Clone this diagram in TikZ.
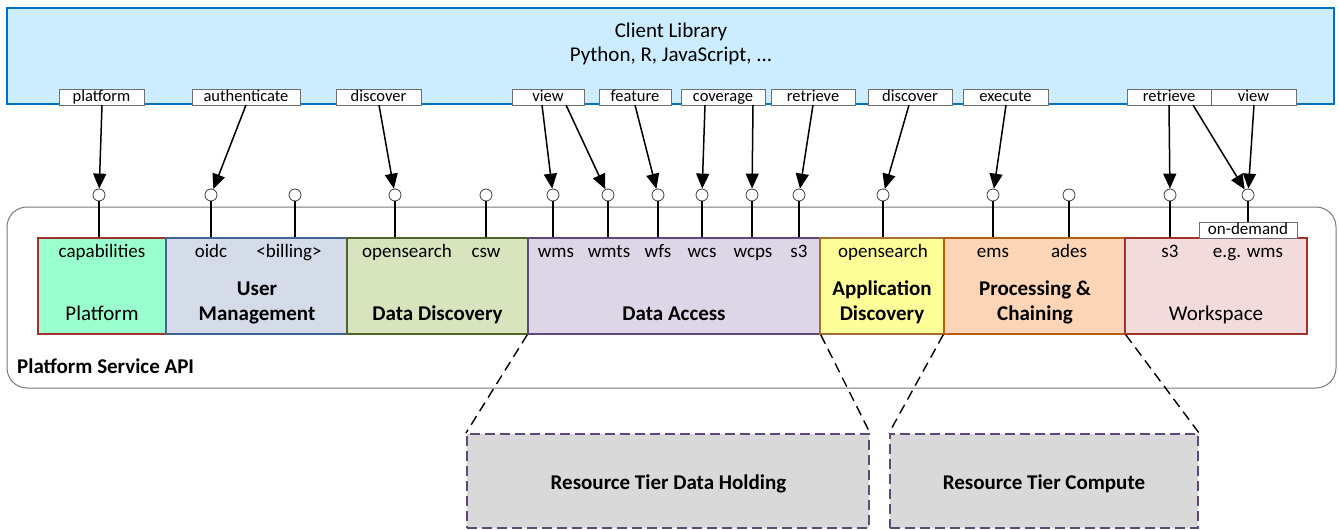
\documentclass[tikz,border=0pt]{standalone}
\usepackage{fontspec}
\setmainfont{Carlito}
\usetikzlibrary{arrows.meta}
\definecolor{clfill}{RGB}{204,236,255}
\definecolor{cldraw}{RGB}{0,112,192}
\definecolor{platfill}{RGB}{153,255,204}
\definecolor{reddraw}{RGB}{160,50,45}
\definecolor{userfill}{RGB}{213,220,233}
\definecolor{userdraw}{RGB}{65,100,150}
\definecolor{discfill}{RGB}{215,228,189}
\definecolor{discdraw}{RGB}{79,98,40}
\definecolor{accfill}{RGB}{221,214,230}
\definecolor{purpdraw}{RGB}{95,73,122}
\definecolor{appfill}{RGB}{255,255,153}
\definecolor{appdraw}{RGB}{166,110,50}
\definecolor{procfill}{RGB}{251,213,181}
\definecolor{procdraw}{RGB}{180,95,20}
\definecolor{workfill}{RGB}{242,220,219}
\definecolor{resfill}{RGB}{217,217,217}
\definecolor{outerdraw}{RGB}{120,120,120}
\definecolor{lbldraw}{RGB}{110,110,110}
\newcommand\myfsub{\fontsize{19}{22}\selectfont}
\newcommand\myfmain{\fontsize{21}{25}\selectfont}
\newcommand\myflbl{\fontsize{16.5}{19}\selectfont}
\newcommand\myfodm{\fontsize{17}{19}\selectfont}
\begin{document}
\begin{tikzpicture}[x=1pt,y=-1pt,
  box/.style={draw, line width=1.5pt, inner sep=0, minimum height=96pt},
  port/.style={circle, draw={rgb,255:red,60;green,60;blue,60}, fill=white, line width=0.8pt, minimum size=12pt, inner sep=0},
  lbl/.style={draw=lbldraw, fill=white, line width=0.8pt, inner sep=0, text height=12.5pt, text depth=3.5pt, font=\myflbl},
  subtxt/.style={anchor=base, inner sep=0, font=\myfsub},
  maintxt/.style={anchor=base, inner sep=0, font=\myfmain},
  boldtxt/.style={anchor=base, inner sep=0, font=\myfmain\bfseries},
  stub/.style={line width=1.3pt},
  arr/.style={line width=1.5pt, -{Triangle[width=13pt,length=15pt]}},
  zoomline/.style={dash pattern=on 10pt off 6pt, line width=1.4pt},
  res/.style={draw=purpdraw, fill=resfill, dash pattern=on 10pt off 5pt, line width=2pt, inner sep=0}
]
\useasboundingbox (0,0) rectangle (1339,530);

% outer platform service API box
\node[draw=outerdraw, line width=1pt, rounded corners=20pt, minimum width=1329pt, minimum height=181pt, inner sep=0] (outer) at (671.5,297.5) {};
\node[boldtxt, anchor=base west] (psapi) at (17,373) {Platform Service API};

% service boxes
\node[box, draw=reddraw, fill=platfill, minimum width=128pt] (bPlat) at (102,286) {};
\node[box, draw=userdraw, fill=userfill, minimum width=181pt] (bUser) at (256.5,286) {};
\node[box, draw=discdraw, fill=discfill, minimum width=181pt] (bDisc) at (437.5,286) {};
\node[box, draw=purpdraw, fill=accfill, minimum width=292pt] (bAcc) at (674,286) {};
\node[box, draw=appdraw, fill=appfill, minimum width=124pt] (bApp) at (882,286) {};
\node[box, draw=procdraw, fill=procfill, minimum width=181pt] (bProc) at (1034.5,286) {};
\node[box, draw=reddraw, fill=workfill, minimum width=182pt] (bWork) at (1216,286) {};

% sub labels
\node[subtxt] (tcap) at (102,257) {capabilities};
\node[subtxt] (toidc) at (211,257) {oidc};
\node[subtxt] (tbill) at (289,257) {<billing>};
\node[subtxt] (tos1) at (407,257) {opensearch};
\node[subtxt] (tcsw) at (486,257) {csw};
\node[subtxt] (twms) at (556,257) {wms};
\node[subtxt] (twmts) at (609,257) {wmts};
\node[subtxt] (twfs) at (658,257) {wfs};
\node[subtxt] (twcs) at (702,257) {wcs};
\node[subtxt] (twcps) at (753,257) {wcps};
\node[subtxt] (ts3a) at (799,257) {s3};
\node[subtxt] (tos2) at (883,257) {opensearch};
\node[subtxt] (tems) at (993,257) {ems};
\node[subtxt] (tades) at (1069,257) {ades};
\node[subtxt] (ts3b) at (1170,257) {s3};
\node[subtxt] (tegw) at (1248,257) {e.g. wms};

% main labels
\node[maintxt] (mPlat) at (102,320) {Platform};
\node[boldtxt] (mUser1) at (257,295) {User};
\node[boldtxt] (mUser2) at (257,320) {Management};
\node[boldtxt] (mDisc) at (437.5,320) {Data Discovery};
\node[boldtxt] (mAcc) at (674,320) {Data Access};
\node[boldtxt] (mApp1) at (882,295) {Application};
\node[boldtxt] (mApp2) at (882,320) {Discovery};
\node[boldtxt] (mProc1) at (1035,295) {Processing \&};
\node[boldtxt] (mProc2) at (1035,320) {Chaining};
\node[maintxt] (mWork) at (1216,320) {Workspace};

% on-demand box
\node[lbl, font=\myfodm, minimum width=98pt, minimum height=16pt] (odm) at (1248,230) {on-demand};

% ports
\foreach \n/\x in {pA/99,pB/211,pC/295,pD/395,pE/486,pF/553,pG/608,pH/658,pI/702,pJ/752,pK/799,pL/883,pM/993,pN/1069,pO/1170,pP/1248}
  \node[port] (\n) at (\x,195) {};

% stubs
\draw[stub] (pA.south) -- (pA.south |- bPlat.north);
\draw[stub] (pB.south) -- (pB.south |- bUser.north);
\draw[stub] (pC.south) -- (pC.south |- bUser.north);
\draw[stub] (pD.south) -- (pD.south |- bDisc.north);
\draw[stub] (pE.south) -- (pE.south |- bDisc.north);
\draw[stub] (pF.south) -- (pF.south |- bAcc.north);
\draw[stub] (pG.south) -- (pG.south |- bAcc.north);
\draw[stub] (pH.south) -- (pH.south |- bAcc.north);
\draw[stub] (pI.south) -- (pI.south |- bAcc.north);
\draw[stub] (pJ.south) -- (pJ.south |- bAcc.north);
\draw[stub] (pK.south) -- (pK.south |- bAcc.north);
\draw[stub] (pL.south) -- (pL.south |- bApp.north);
\draw[stub] (pM.south) -- (pM.south |- bProc.north);
\draw[stub] (pN.south) -- (pN.south |- bProc.north);
\draw[stub] (pO.south) -- (pO.south |- bWork.north);
\draw[stub] (pP.south) -- (odm.north);

% client library
\node[draw=cldraw, fill=clfill, line width=2pt, minimum width=1327pt, minimum height=96pt, inner sep=0] (cl) at (670.5,56) {};
\node[maintxt, font=\myfmain] (cl1) at (671,37.5) {Client Library};
\node[maintxt, font=\myfmain] (cl2) at (671,61) {Python, R, JavaScript, ...};

% interface labels
\node[lbl, minimum width=85pt] (lPlat) at (101.5,97) {platform};
\node[lbl, minimum width=108pt] (lAuth) at (246,97) {authenticate};
\node[lbl, minimum width=85pt] (lDisc) at (378.5,97) {discover};
\node[lbl, minimum width=72pt] (lView) at (548,97) {view};
\node[lbl, minimum width=72pt] (lFeat) at (635,97) {feature};
\node[lbl, minimum width=84pt] (lCov) at (723,97) {coverage};
\node[lbl, minimum width=84pt] (lRetr) at (813,97) {retrieve};
\node[lbl, minimum width=84pt] (lDisc2) at (910,97) {discover};
\node[lbl, minimum width=85pt] (lExec) at (1005.5,97) {execute};
\node[lbl, minimum width=84pt] (lRetr2) at (1169,97) {retrieve};
\node[lbl, minimum width=85pt] (lView2) at (1253.5,97) {view};

% arrow start points
\coordinate (a1) at (102,105);
\coordinate (a2) at (246,105);
\coordinate (a3) at (379,105);
\coordinate (a4) at (542,105);
\coordinate (a5) at (566,105);
\coordinate (a6) at (635,105);
\coordinate (a7) at (705,105);
\coordinate (a8) at (753,105);
\coordinate (a9) at (813,105);
\coordinate (a10) at (909,105);
\coordinate (a11) at (1006,105);
\coordinate (a12) at (1169,105);
\coordinate (a13) at (1193,105);
\coordinate (a14) at (1254,105);

\draw[arr] (a1) -- (pA);
\draw[arr] (a2) -- (pB);
\draw[arr] (a3) -- (pD);
\draw[arr] (a4) -- (pF);
\draw[arr] (a5) -- (pG);
\draw[arr] (a6) -- (pH);
\draw[arr] (a7) -- (pI);
\draw[arr] (a8) -- (pJ);
\draw[arr] (a9) -- (pK);
\draw[arr] (a10) -- (pL);
\draw[arr] (a11) -- (pM);
\draw[arr] (a12) -- (pO);
\draw[arr] (a13) -- (pP);
\draw[arr] (a14) -- (pP);

% resource tiers
\node[res, minimum width=402pt, minimum height=94pt] (rDH) at (668,481) {};
\node[res, minimum width=308pt, minimum height=94pt] (rC) at (1044,481) {};
\node[boldtxt] (tDH) at (668.5,489) {Resource Tier Data Holding};
\node[boldtxt] (tC) at (1044,489) {Resource Tier Compute};

\draw[zoomline] (bAcc.south west) -- (rDH.north west);
\draw[zoomline] (bAcc.south east) -- (rDH.north east);
\draw[zoomline] (bProc.south west) -- (rC.north west);
\draw[zoomline] (bProc.south east) -- (rC.north east);
\end{tikzpicture}
\end{document}
